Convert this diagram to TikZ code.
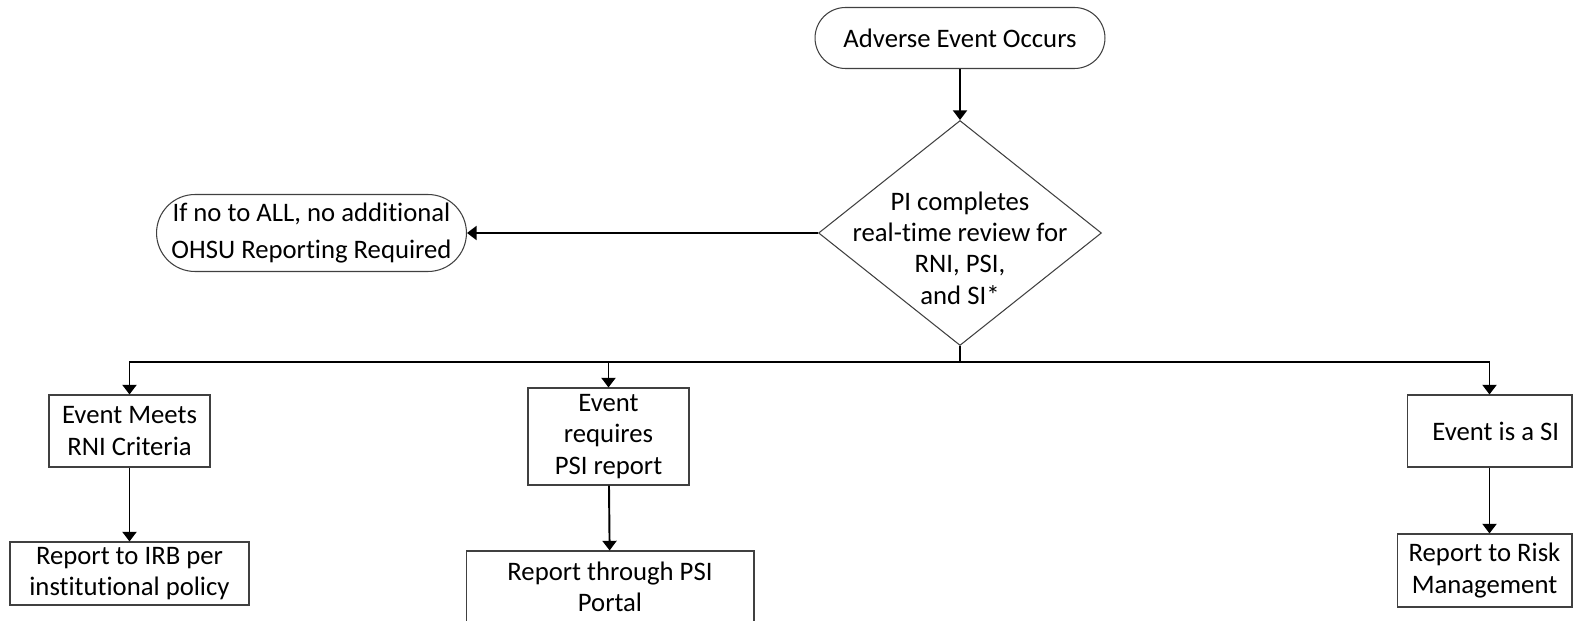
\documentclass[tikz,border=0pt]{standalone}
\usepackage{fontspec}
\setmainfont{Carlito}[Ligatures=NoCommon]
\usepackage{tikz}
\usetikzlibrary{
    arrows,
    arrows.meta,
    shapes,
    positioning
}

\tikzset{
    base/.style={draw=black!75, line width=0.6pt, align=center, inner sep=0pt,
        font=\fontsize{15.2}{17.8}\selectfont},
    stepbox/.style={base, rectangle},
    terminal/.style={base, rounded rectangle},
    decision/.style={base, diamond},
    flow/.style={line width=1.1pt, -{Triangle[width=8pt,length=5.5pt]}},
    wire/.style={line width=1.1pt}
}

\begin{document}
\begin{tikzpicture}[x=0.02cm, y=-0.02cm]
    \useasboundingbox (0,0) rectangle (1573,621);
    % top of the chart
    \node[terminal, minimum width=5.8cm, minimum height=1.22cm] (start) at (960,38) {Adverse Event Occurs};
    \node[decision, minimum width=5.66cm, minimum height=4.5cm,
        label={[align=center, yshift=-0.3cm, font=\fontsize{15.2}{17.8}\selectfont]center:PI completes\\real-time review for\\RNI, PSI,\\and SI*}] (review) at (960,233) {};
    \node[terminal, minimum width=6.14cm, minimum height=1.54cm,
        font=\fontsize{15.2}{21.5}\selectfont] (none) at (311.5,233) {If no to ALL, no additional\\OHSU Reporting Required};
    % three branches
    \node[stepbox, minimum width=3.22cm, minimum height=1.44cm] (rni) at (129.5,431) {Event Meets\\RNI Criteria};
    \node[stepbox, minimum width=4.78cm, minimum height=1.26cm] (irb) at (129.5,573.5) {Report to IRB per\\institutional policy};
    \node[stepbox, minimum width=3.22cm, minimum height=1.94cm] (psi) at (608.5,436.5) {Event\\requires\\PSI report};
    \node[stepbox, minimum width=5.76cm, minimum height=1.44cm] (portal) at (610,587) {Report through PSI\\Portal};
    \node[stepbox, minimum width=3.3cm, minimum height=1.44cm] (si) at (1489.5,431) {\hspace{0.25cm}Event is a SI};
    \node[stepbox, minimum width=3.5cm, minimum height=1.46cm] (risk) at (1484.5,570.5) {Report to Risk\\Management};
    \coordinate (bus) at (960,362);
    % connectors
    \draw[flow] (start) -- (review);
    \draw[flow] (review.west) -- (none.east);
    \draw[wire] (review.south) -- (bus);
    \draw[flow] (bus) -| (rni.north);
    \draw[flow] (bus) -| (si.north);
    \draw[flow] (bus -| psi.north) -- (psi.north);
    \draw[flow] (rni) -- (irb);
    \draw[flow] (psi) -- (portal);
    \draw[flow] (si.south) -- (si.south |- risk.north);
\end{tikzpicture}
\end{document}
